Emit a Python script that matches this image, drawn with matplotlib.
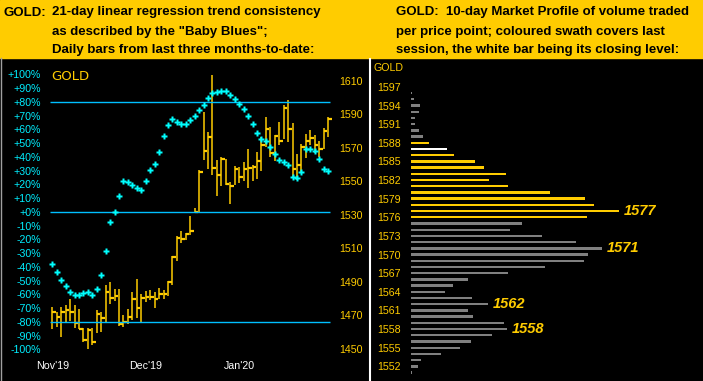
import matplotlib.pyplot as plt
from matplotlib.lines import Line2D
from matplotlib.patches import Rectangle
import numpy as np

plt.rcParams['font.family'] = ['Liberation Sans', 'DejaVu Sans']

W, H = 703, 381

# daily bars, last three months (high / low / close)
highs = [1475.3, 1472.3, 1474.9, 1476.3, 1479.9, 1476.3, 1473.9, 1462.7, 1462.7, 1462.7,
         1473.3, 1472.3, 1488.2, 1490.0, 1485.8, 1485.8, 1470.3, 1473.9, 1483.9, 1491.8,
         1482.7, 1484.6, 1485.2, 1483.9, 1486.4, 1485.2, 1490.6, 1505.5, 1517.5, 1520.4,
         1519.4, 1529.6, 1534.2, 1556.9, 1591.7, 1579.6, 1613.6, 1562.8, 1564.4, 1563.4,
         1549.5, 1559.3, 1558.7, 1561.6, 1569.4, 1559.9, 1567.6, 1576.4, 1588.5, 1582.5,
         1577.6, 1585.5, 1595.7, 1598.7, 1584.9, 1566.4, 1572.4, 1578.4, 1580.8, 1577.8,
         1574.2, 1581.9, 1588.5]
lows = [1462.1, 1463.3, 1457.3, 1465.7, 1466.9, 1462.7, 1462.1, 1454.4, 1450.2, 1452.6,
        1459.7, 1460.3, 1465.7, 1477.0, 1478.8, 1463.7, 1463.3, 1464.7, 1467.3, 1468.5,
        1466.1, 1478.2, 1479.3, 1474.7, 1479.7, 1479.9, 1481.6, 1488.4, 1502.7, 1513.1,
        1515.1, 1518.2, 1531.0, 1531.0, 1562.8, 1557.6, 1554.1, 1541.5, 1547.5, 1547.9,
        1536.7, 1547.7, 1548.9, 1550.1, 1546.3, 1550.3, 1551.7, 1556.4, 1570.4, 1564.8,
        1562.4, 1572.0, 1575.4, 1573.8, 1551.9, 1550.9, 1555.9, 1564.2, 1572.0, 1566.8,
        1564.4, 1569.4, 1576.7]
closes = [1472.3, 1469.3, 1472.3, 1473.1, 1472.3, 1465.3, 1462.1, 1455.6, 1461.5, 1454.4,
          1471.1, 1468.7, 1484.2, 1480.6, 1481.8, 1464.9, 1466.3, 1469.3, 1480.0, 1474.7,
          1480.6, 1481.2, 1481.2, 1480.0, 1483.0, 1483.0, 1489.8, 1505.1, 1516.4, 1515.7,
          1518.8, 1520.6, 1532.0, 1555.9, 1568.4, 1576.7, 1558.2, 1554.1, 1563.6, 1548.7,
          1547.5, 1557.3, 1552.9, 1557.6, 1558.2, 1558.8, 1562.4, 1572.0, 1581.5, 1566.8,
          1577.3, 1574.0, 1594.1, 1581.5, 1557.3, 1559.9, 1570.8, 1574.4, 1576.1, 1572.0,
          1569.6, 1580.0, 1587.5]

# "Baby Blues": 21-day linear regression trend consistency (%)
blues = [-37.6, -43.6, -49.2, -53.8, -58.0, -60.4, -60.4, -58.7, -58.0, -60.4,
         -56.0, -45.8, -28.4, -7.3, 0.2, 11.6, 22.8, 21.8, 19.9, 17.5,
         16.2, 22.8, 30.5, 34.9, 43.9, 55.5, 63.5, 67.6, 65.5, 64.0,
         64.0, 67.1, 70.0, 74.4, 77.6, 83.1, 86.5, 87.5, 88.2, 88.2,
         85.3, 82.4, 78.8, 75.1, 70.0, 64.2, 57.7, 53.3, 51.9, 47.3,
         42.4, 38.0, 36.6, 34.4, 25.7, 24.9, 29.3, 46.0, 46.0, 44.6,
         38.8, 31.5, 30.0]
blue_levels = [80, 0, -80]

month_labels = ["Nov'19", "Dec'19", "Jan'20"]
month_pos = [0, 21, 42]

# 10-day market profile
mp_prices = list(range(1596, 1550, -1))
mp_volume = [3, 9, 27, 24, 12, 12, 24, 36, 54, 108,
             129, 192, 219, 285, 234, 291, 417, 522, 549, 624,
             528, 333, 297, 393, 495, 573, 531, 519, 402, 291,
             171, 126, 102, 183, 231, 171, 186, 279, 288, 243,
             180, 147, 90, 30, 21, 3]
session_low, session_high, last_close = 1576, 1588, 1587
mp_marked = [1577, 1571, 1562, 1558]

left_title = ["21-day linear regression trend consistency",
              "as described by the \"Baby Blues\";",
              "Daily bars from last three months-to-date:"]
right_title = ["GOLD:  10-day Market Profile of volume traded",
               "per price point; coloured swath covers last",
               "session, the white bar being its closing level:"]

GOLD = '#FFCC00'
CYAN = '#00FFFF'
LINE_BLUE = '#00BFFF'
GREY = '#808080'


def box(x0, y0, x1, y1):
    return [x0 / W, 1 - y1 / H, (x1 - x0) / W, (y1 - y0) / H]


fig = plt.figure(figsize=(W / 100, H / 100), dpi=100, facecolor='black')

# header band
fig.patches.append(Rectangle((0, 1 - 58 / H), 1, 58 / H, transform=fig.transFigure,
                             color=GOLD, zorder=0))
base = [15.5, 34.5, 53.3]
fig.text(4 / W, 1 - base[0] / H, "GOLD:", fontsize=9.5, weight='bold', va='baseline')
for y, t in zip(base, left_title):
    fig.text(52 / W, 1 - y / H, t, fontsize=9.5, weight='bold', va='baseline')
for y, t in zip(base, right_title):
    fig.text(396 / W, 1 - y / H, t, fontsize=9.5, weight='bold', va='baseline')

fig.add_artist(Line2D([0.5 / W, 0.5 / W], [0, 1 - 58 / H], color='#A0A0A0', lw=1))
fig.add_artist(Line2D([369.5 / W, 369.5 / W], [0, 1 - 59 / H], color='white', lw=1.5))

# ---- left: daily bars + Baby Blues ----
x = np.arange(len(closes))
ax = fig.add_axes(box(46, 62, 335, 356))
ax.set_facecolor('black')
axp = ax.twinx()

ax.vlines(x, lows, highs, color=GOLD, lw=1.1)
ax.hlines(closes, x, x + 0.8, color=GOLD, lw=1.6)
ax.set_xlim(-1.416, 63.53)
ax.set_ylim(1445.82, 1621.34)
ax.yaxis.set_ticks_position('right')
ax.set_yticks(np.arange(1450, 1611, 20))
ax.tick_params(axis='y', colors=GOLD, labelsize=7.7, length=0, pad=3,
               labelleft=False, labelright=True)
ax.set_xticks(month_pos, month_labels)
ax.tick_params(axis='x', colors='white', labelsize=7.7, length=0, pad=3.5)

axp.set_ylim(-104.73, 109.09)
axp.yaxis.set_ticks_position('left')
axp.set_yticks(np.arange(-100, 101, 10))
axp.set_yticklabels([f"{v:+d}%" for v in range(-100, 101, 10)])
axp.tick_params(axis='y', colors='#00EEFF', labelsize=7.7, length=0, pad=3.6,
                labelleft=True, labelright=False)
axp.hlines(blue_levels, -0.5, 62.3, color=LINE_BLUE, lw=1)
axp.plot(x, blues, 'P', color=CYAN, ms=4, mec='none')
axp.text(5 / 289, 1 - 14 / 294, "GOLD", transform=axp.transAxes, color=GOLD,
         fontsize=9.5, family='DejaVu Sans', va='center', ha='left')

for a in (ax, axp):
    for s in a.spines.values():
        s.set_visible(False)

# ---- right: market profile ----
axm = fig.add_axes(box(405, 59, 703, 381))
axm.set_facecolor('black')
colors = []
for p in mp_prices:
    if p == last_close:
        colors.append('white')
    elif session_low <= p <= session_high:
        colors.append(GOLD)
    else:
        colors.append(GREY)
axm.barh(mp_prices, mp_volume, height=0.38, left=0, color=colors)
for p in mp_marked:
    v = mp_volume[mp_prices.index(p)]
    axm.text(v + 14, p, str(p), color=GOLD, fontsize=10.5, weight='bold',
             style='italic', va='center', ha='left')
axm.set_xlim(-18, 876)
axm.set_ylim(1549.64, 1601.49)
axm.set_xticks([])
axm.set_yticks(np.arange(1552, 1598, 3))
axm.tick_params(axis='y', colors=GOLD, labelsize=7.7, length=0, pad=2.9)
for s in axm.spines.values():
    s.set_visible(False)
fig.text(373 / W, 1 - 68 / H, "GOLD", color=GOLD, fontsize=7.7, va='center', ha='left')

fig.savefig('out.png', dpi=100, facecolor='black')
